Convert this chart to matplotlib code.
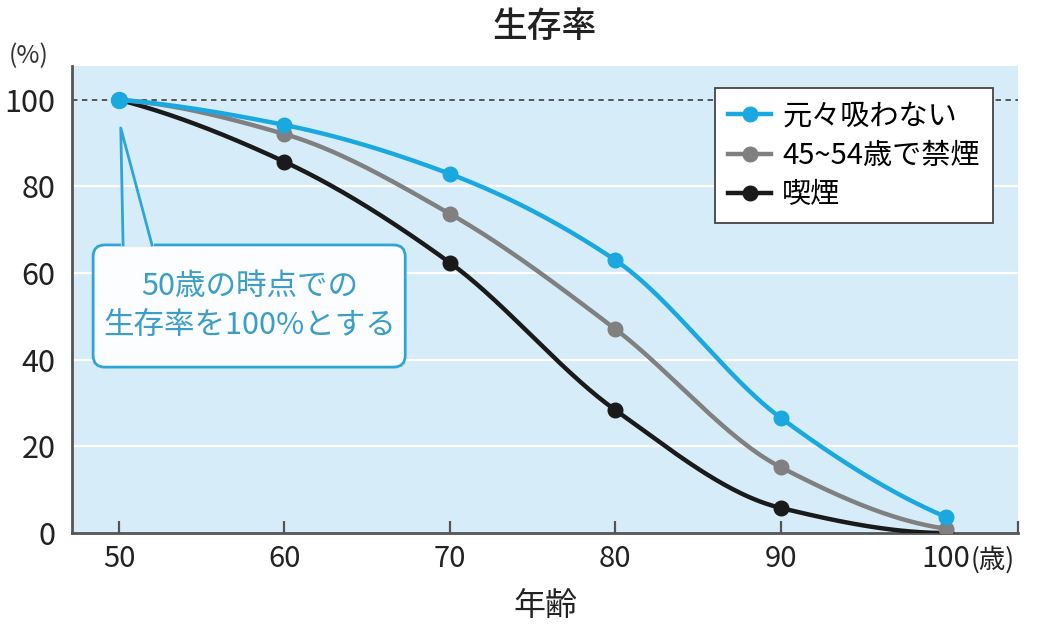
import numpy as np
import matplotlib
matplotlib.use("Agg")
import matplotlib.pyplot as plt
from matplotlib.patches import FancyBboxPatch

plt.rcParams['font.family'] = ['Noto Sans CJK JP', 'DejaVu Sans']

ages = [50, 60, 70, 80, 90, 100]
never = [100, 94.2, 82.9, 63.0, 26.6, 3.7]
quit_45_54 = [100, 92.1, 73.7, 47.1, 15.2, 1.0]
smoker = [100, 85.7, 62.4, 28.4, 5.8, 0.0]
labels = ['元々吸わない', '45~54歳で禁煙', '喫煙']
colors = ['#1aa8e0', '#808080', '#1a1a1a']
yticks = [0, 20, 40, 60, 80, 100]


def pchip(x, y, xs):
    # monotone cubic (Fritsch-Carlson), same end rule as scipy
    x = np.asarray(x, float)
    y = np.asarray(y, float)
    h = np.diff(x)
    d = np.diff(y) / h
    n = len(x)
    m = np.zeros(n)
    for k in range(1, n - 1):
        if d[k - 1] * d[k] > 0:
            w1 = 2 * h[k] + h[k - 1]
            w2 = h[k] + 2 * h[k - 1]
            m[k] = (w1 + w2) / (w1 / d[k - 1] + w2 / d[k])

    def end(h0, h1, d0, d1):
        s = ((2 * h0 + h1) * d0 - h0 * d1) / (h0 + h1)
        if np.sign(s) != np.sign(d0):
            s = 0.0
        elif np.sign(d0) != np.sign(d1) and abs(s) > abs(3 * d0):
            s = 3 * d0
        return s

    m[0] = end(h[0], h[1], d[0], d[1])
    m[-1] = end(h[-1], h[-2], d[-1], d[-2])
    out = np.empty_like(xs)
    for i, xv in enumerate(xs):
        k = min(np.searchsorted(x, xv, side='right') - 1, n - 2)
        t = (xv - x[k]) / h[k]
        h00 = 2 * t**3 - 3 * t**2 + 1
        h10 = t**3 - 2 * t**2 + t
        h01 = -2 * t**3 + 3 * t**2
        h11 = t**3 - t**2
        out[i] = h00 * y[k] + h10 * h[k] * m[k] + h01 * y[k + 1] + h11 * h[k] * m[k + 1]
    return out


fig = plt.figure(figsize=(10.4, 6.35), dpi=100)
ax = fig.add_axes([0.0692, 0.1606, 0.9096, 0.7354])
ax.set_facecolor('#d6edf9')

xlo, xhi = 47.15, 104.35
ax.set_xlim(xlo, xhi)
ax.set_ylim(0, 107.8)

for yv in yticks[1:-1]:
    ax.axhline(yv, color='white', lw=1.6, zorder=1)
ax.axhline(100, color='#4a4a4a', lw=1.3, ls=(0, (3, 2.5)), zorder=1)

xs = np.linspace(50, 100, 400)
series = [never, quit_45_54, smoker]
for vals, lab, col, z in zip(series, labels, colors, [5, 4, 3]):
    ax.plot(xs, pchip(ages, vals, xs), color=col, lw=3.2, zorder=z,
            solid_capstyle='round')
    ax.plot(ages, vals, 'o', color=col, ms=10.5, zorder=z)
    ax.plot([], [], '-o', color=col, lw=3.2, ms=10.5, label=lab)
ax.plot(ages[0], never[0], 'o', color=colors[0], ms=11.5, zorder=6)

for s in ['top', 'right']:
    ax.spines[s].set_visible(False)
for s in ['left', 'bottom']:
    ax.spines[s].set_color('#555555')
    ax.spines[s].set_linewidth(2)

ax.set_xticks(ages)
ax.set_xticks([xhi], minor=True)
ax.tick_params(axis='x', which='both', direction='in', length=9, width=1.6,
               color='#555555', labelsize=21, pad=8, labelcolor='#222222')
ax.set_yticks(yticks)
ax.tick_params(axis='y', length=0, labelsize=22, pad=12, labelcolor='#222222')

ax.text(101.5, -3.0, '(歳)', fontsize=19, color='#222222', va='top', ha='left')
fig.text(0.008, 0.912, '(%)', fontsize=18, color='#333333', ha='left', va='center')
fig.text(0.524, 0.958, '生存率', fontsize=25, fontweight='medium', color='#222222',
         ha='center', va='center')
fig.text(0.524, 0.045, '年齢', fontsize=23, color='#222222', ha='center', va='center')

leg = ax.legend(loc='upper right', bbox_to_anchor=(0.9736, 0.953), fontsize=21,
                frameon=True, fancybox=False, handlelength=1.45, handletextpad=0.4,
                labelspacing=0.33, borderpad=0.45, borderaxespad=0)
leg.get_frame().set_edgecolor('#444444')
leg.get_frame().set_linewidth(1.3)
leg.get_frame().set_facecolor('white')
leg.get_frame().set_alpha(1)
leg.set_zorder(10)

# callout box
cb = '#2fa5d6'
box = FancyBboxPatch((48.43, 38.3), 67.3 - 48.43, 66.5 - 38.3,
                     boxstyle='round,pad=0,rounding_size=0.7', mutation_aspect=3.8,
                     facecolor='#fbfdfe', edgecolor=cb, lw=2, zorder=7)
ax.add_patch(box)
ax.plot([50.24, 51.99], [66.5, 66.5], color='#d6edf9', lw=3, zorder=8)
ax.plot([50.24, 50.1, 51.99], [66.5, 93.5, 66.5], color=cb, lw=2, zorder=8)
ax.text(57.9, 57.0, '50歳の時点での', fontsize=22, color='#3a9ec8',
        ha='center', va='center', zorder=9)
ax.text(57.9, 47.8, '生存率を100%とする', fontsize=22, color='#3a9ec8',
        ha='center', va='center', zorder=9)

fig.savefig('out.png', dpi=100)
